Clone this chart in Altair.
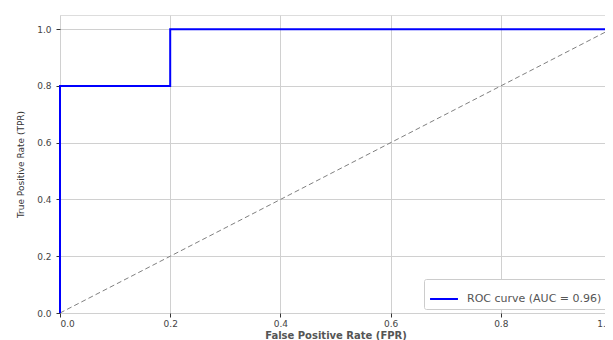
import altair as alt
import pandas as pd

fpr = [0.0, 0.0, 0.2, 0.2, 1.0]
tpr = [0.0, 0.8, 0.8, 1.0, 1.0]
diag_x = [0.0, 1.0]
diag_y = [0.0, 1.0]
label = "ROC curve (AUC = 0.96)"
ticks = [0.0, 0.2, 0.4, 0.6, 0.8, 1.0]

roc = pd.DataFrame({"fpr": fpr, "tpr": tpr, "order": list(range(len(fpr))), "series": [label] * len(fpr)})
diag = pd.DataFrame({"fpr": diag_x, "tpr": diag_y})

xs = alt.Scale(domain=[0, 1], nice=False, zero=False)
ys = alt.Scale(domain=[0, 1.05], nice=False, zero=False)

xax = alt.Axis(values=ticks, format=".1f", title="False Positive Rate (FPR)", labelFontSize=9,
               titleFontSize=10, titleFontWeight="bold", gridColor="#d0d0d0", tickColor="#333",
               domain=False, labelColor="#444", titleColor="#555", tickSize=4, labelPadding=2, titlePadding=2)
yax = alt.Axis(values=ticks, format=".1f", title="True Positive Rate (TPR)", labelFontSize=9,
               titleFontSize=9, titleFontWeight="normal", gridColor="#d0d0d0", tickColor="#333",
               domain=False, labelColor="#444", titleColor="#333", tickSize=4, labelPadding=5, titlePadding=11)

diag_line = alt.Chart(diag).mark_line(color="gray", strokeDash=[5, 3], strokeWidth=1).encode(
    x=alt.X("fpr:Q", scale=xs, axis=xax),
    y=alt.Y("tpr:Q", scale=ys, axis=yax),
)

roc_line = alt.Chart(roc).mark_line(strokeWidth=2, clip=False).encode(
    x=alt.X("fpr:Q", scale=xs),
    y=alt.Y("tpr:Q", scale=ys),
    order="order:Q",
    color=alt.Color("series:N", scale=alt.Scale(range=["blue"]),
                    legend=alt.Legend(title=None, orient="bottom-right", symbolType="stroke",
                                      symbolStrokeWidth=2, symbolSize=780, labelFontSize=11,
                                      labelOffset=8, labelColor="#555", strokeColor="#ccc",
                                      fillColor="white", padding=5, offset=4, cornerRadius=2)),
)

chart = alt.layer(diag_line, roc_line).properties(
    width=551, height=298,
    autosize=alt.AutoSizeParams(type="none"),
    padding={"left": 52, "top": 7, "right": -6, "bottom": 27},
).configure_view(stroke="#333", strokeWidth=1).configure(font="DejaVu Sans")

chart.save("out.html", embed_options={"renderer": "svg", "actions": False})
